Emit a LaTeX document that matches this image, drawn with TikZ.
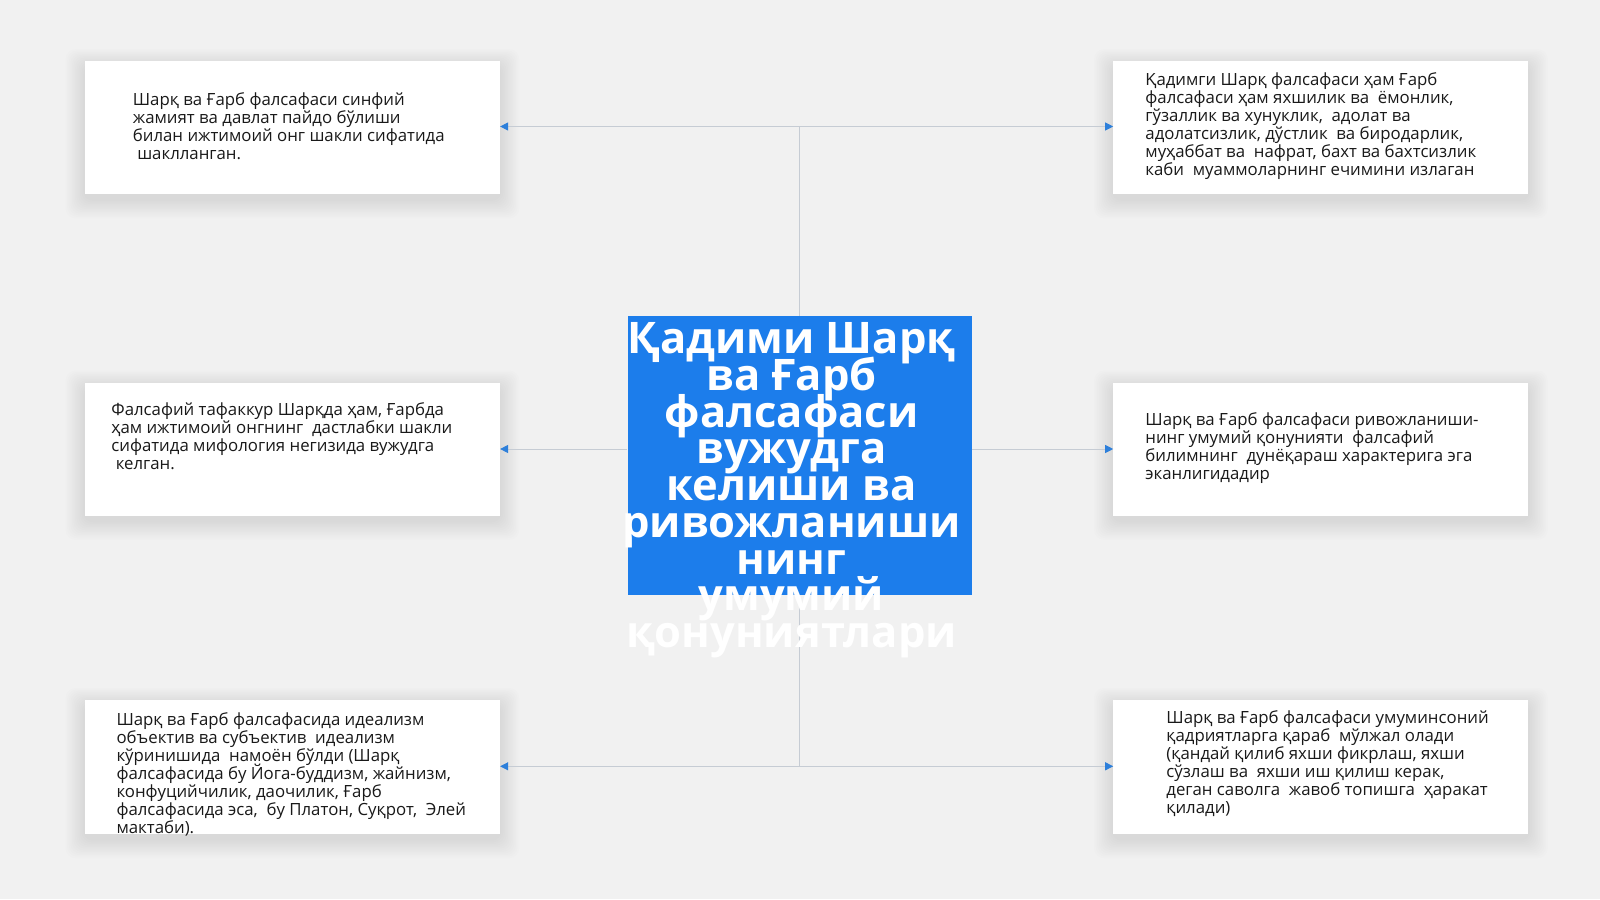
\documentclass[tikz,border=0pt]{standalone}
\usepackage{fontspec}
\setmainfont{Open Sans}
\usepackage{xcolor}
\usepackage{tikz}
\usetikzlibrary{arrows.meta}

\definecolor{pagebg}{HTML}{F1F1F1}
\definecolor{hubblue}{HTML}{1C7DEB}
\definecolor{linkgray}{HTML}{C6CCD4}
\definecolor{tipblue}{HTML}{2D7FDA}

\pgfdeclarelayer{background}
\pgfsetlayers{background,main}

\newcommand{\tightlines}{\lineskiplimit=-50pt\relax}

\tikzset{
	card/.style={fill=white, minimum width=415pt, minimum height=133pt, inner sep=0pt},
	cardtext/.style={anchor=north west, align=left, inner sep=0pt, font={\fontsize{16.8}{17.9}\selectfont\tightlines}, text=black!90},
	link/.style={draw=linkgray, line width=1pt},
	tolink/.style={link, -{Triangle[length=8pt,width=8pt,color=tipblue]}},
	haze/.style={fill=black, opacity=0.0065, rounded corners=10pt}
}

\begin{document}
\begin{tikzpicture}[x=1pt,y=-1pt]
		\useasboundingbox (0,0) rectangle (1600,899);

		\node[card] (tl) at (292.4,127.6) {};
		\node[card] (tr) at (1320.9,127.6) {};
		\node[card] (ml) at (292.4,449) {};
		\node[card] (mr) at (1320.9,449) {};
		\node[card, minimum height=134pt] (bl) at (292.4,766.9) {};
		\node[card, minimum height=134pt] (br) at (1320.9,766.9) {};

		% soft shadows under the cards
		\begin{pgfonlayer}{background}
			\fill[pagebg] (0,0) rectangle (1600,899);
			\foreach \c in {tl,tr,ml,mr,bl,br}
				\foreach \s in {1,...,12}
					\fill[haze] ([shift={({-1.6*\s},{-1.4*\s+5})}]\c.north west) rectangle ([shift={({1.6*\s},{1.6*\s+5})}]\c.south east);
		\end{pgfonlayer}

		\node[fill=hubblue, minimum width=344pt, minimum height=279pt, inner sep=0pt] (hub) at (799.5,455.6) {};

		\coordinate (jt) at (799.5,126.5);
		\coordinate (jb) at (799.5,766.3);

		\draw[link] (hub.north) -- (jt);
		\draw[tolink] (jt) -- (tl.east |- jt);
		\draw[tolink] (jt) -- (tr.west |- jt);
		\draw[tolink] (hub.west |- ml.east) -- (ml.east);
		\draw[tolink] (hub.east |- mr.west) -- (mr.west);
		\draw[link] (hub.south) -- (jb);
		\draw[tolink] (jb) -- (bl.east |- jb);
		\draw[tolink] (jb) -- (br.west |- jb);

		\node[anchor=north, align=center, inner sep=0pt, text=white, font={\fontsize{43.5}{36.7}\selectfont\bfseries\tightlines}] (title) at ([shift={(-8,6.7)}]hub.north) {Қадими Шарқ\\ва Ғарб\\фалсафаси\\вужудга\\келиши ва\\ривожланиши\\нинг\\умумий\\қонуниятлари};

		\node[cardtext] (ttl) at ([shift={(48,32)}]tl.north west) {Шарқ ва Ғарб фалсафаси синфий\\жамият ва давлат пайдо бўлиши\\билан ижтимоий онг шакли сифатида\\\ шаклланган.};
		\node[cardtext] (ttr) at ([shift={(32,12)}]tr.north west) {Қадимги Шарқ фалсафаси ҳам Ғарб\\фалсафаси ҳам яхшилик ва\ \ ёмонлик,\\гўзаллик ва хунуклик,\ \ адолат ва\\адолатсизлик, дўстлик\ \ ва биродарлик,\\муҳаббат ва\ \ нафрат, бахт ва бахтсизлик\\каби\ \ муаммоларнинг ечимини излаган};
		\node[cardtext] (tml) at ([shift={(26.5,20)}]ml.north west) {Фалсафий тафаккур Шарқда ҳам, Ғарбда\\ҳам ижтимоий онгнинг\ \ дастлабки шакли\\сифатида мифология негизида вужудга\\\ келган.};
		\node[cardtext] (tmr) at ([shift={(32,30)}]mr.north west) {Шарқ ва Ғарб фалсафаси ривожланиши-\\нинг умумий қонунияти\ \ фалсафий\\билимнинг\ \ дунёқараш характерига эга\\эканлигидадир};
		\node[cardtext] (tbl) at ([shift={(31.6,13)}]bl.north west) {Шарқ ва Ғарб фалсафасида идеализм\\объектив ва субъектив\ \ идеализм\\кўринишида\ \ намоён бўлди (Шарқ\\фалсафасида бу Йога-буддизм, жайнизм,\\конфуцийчилик, даочилик, Ғарб\\фалсафасида эса,\ \ бу Платон, Суқрот,\ \ Элей\\мактаби).};
		\node[cardtext] (tbr) at ([shift={(53,11)}]br.north west) {Шарқ ва Ғарб фалсафаси умуминсоний\\қадриятларга қараб\ \ мўлжал олади\\(қандай қилиб яхши фикрлаш, яхши\\сўзлаш ва\ \ яхши иш қилиш керак,\\деган саволга\ \ жавоб топишга\ \ ҳаракат\\қилади)};
	\end{tikzpicture}
\end{document}
